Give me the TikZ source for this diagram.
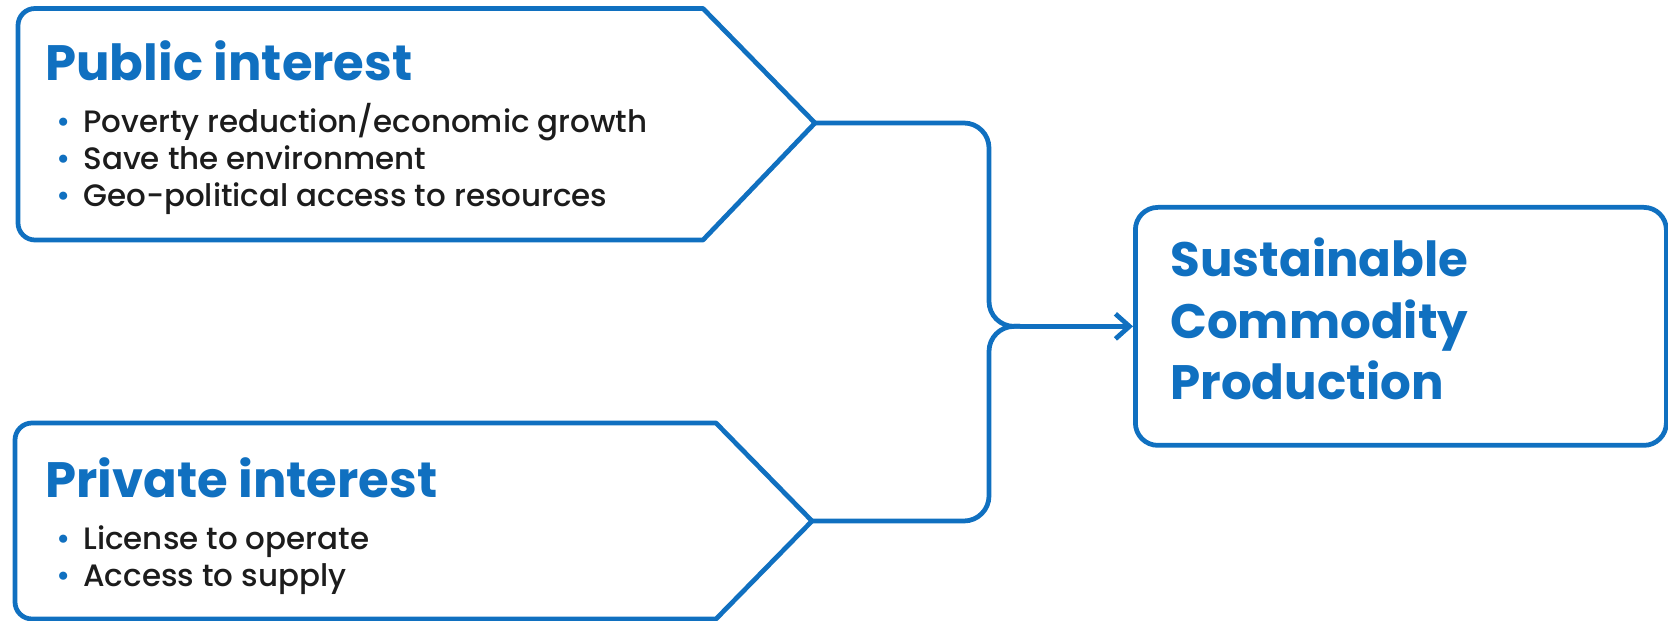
\documentclass[tikz,border=0pt]{standalone}
\usepackage{fontspec}
\setmainfont{Poppins}
\newfontfamily\itemfont{Poppins}[UprightFont=* Medium]
\usetikzlibrary{arrows.meta}
\definecolor{boxblue}{RGB}{16,112,192}
\definecolor{ink}{RGB}{28,28,28}
\newcommand{\itm}[1]{\makebox[15.4pt][l]{\textcolor{boxblue}{\textbullet}}#1}
\tikzset{
  frame/.style={draw=boxblue, line width=2.7pt, line join=round},
  link/.style={draw=boxblue, line width=2.7pt, rounded corners=0.5cm},
  head/.style={font=\fontsize{28.3}{30}\selectfont\bfseries, text=boxblue, anchor=base west, inner sep=0pt},
  item/.style={font=\fontsize{17.6}{20}\selectfont\itemfont, text=ink, anchor=base west, inner sep=0pt},
  goaltxt/.style={font=\fontsize{27.5}{30}\selectfont\bfseries, text=boxblue, anchor=base west, inner sep=0pt},
}
\begin{document}
\begin{tikzpicture}
\useasboundingbox (0,0) rectangle (33.36,-12.42);
% public interest
\coordinate (pubtip) at (16.30,-2.46);
\draw[frame] (pubtip) -- (14.06,-0.17) -- (0.70,-0.17) arc[start angle=90,end angle=180,radius=0.34]
  -- (0.36,-4.46) arc[start angle=180,end angle=270,radius=0.34] -- (14.06,-4.80) -- cycle;
\node[head] (pubhead) at (0.90,-1.62) {Public interest};
\node[item] (pub1) at (1.12,-2.66) {\itm{Poverty reduction/economic growth}};
\node[item] (pub2) at (1.12,-3.40) {\itm{Save the environment}};
\node[item] (pub3) at (1.12,-4.14) {\itm{Geo-political access to resources}};
% private interest
\coordinate (privtip) at (16.24,-10.42);
\draw[frame] (privtip) -- (14.32,-8.46) -- (0.64,-8.46) arc[start angle=90,end angle=180,radius=0.34]
  -- (0.30,-12.04) arc[start angle=180,end angle=270,radius=0.34] -- (14.32,-12.38) -- cycle;
\node[head] (privhead) at (0.90,-9.96) {Private interest};
\node[item] (priv1) at (1.12,-10.98) {\itm{License to operate}};
\node[item] (priv2) at (1.12,-11.72) {\itm{Access to supply}};
% goal
\node[frame, rounded corners=0.45cm, minimum width=10.62cm, minimum height=4.76cm,
  anchor=north west, inner sep=0pt] (goal) at (22.66,-4.10) {};
\node[goaltxt] (goal1) at (23.40,-5.54) {Sustainable};
\node[goaltxt] (goal2) at (23.40,-6.78) {Commodity};
\node[goaltxt] (goal3) at (23.40,-8.00) {Production};
% connectors
\path (goal.west) ++(-2.26,0) coordinate (join);
\path (join) ++(-0.62,0) coordinate (bend);
\draw[link] (pubtip) -| (bend) -- (join);
\draw[link] (privtip) -| (bend) -- (join);
\draw[link, -{Straight Barb[length=0.28cm,width=0.5cm]}] (join) -- (goal.west);
\end{tikzpicture}
\end{document}
